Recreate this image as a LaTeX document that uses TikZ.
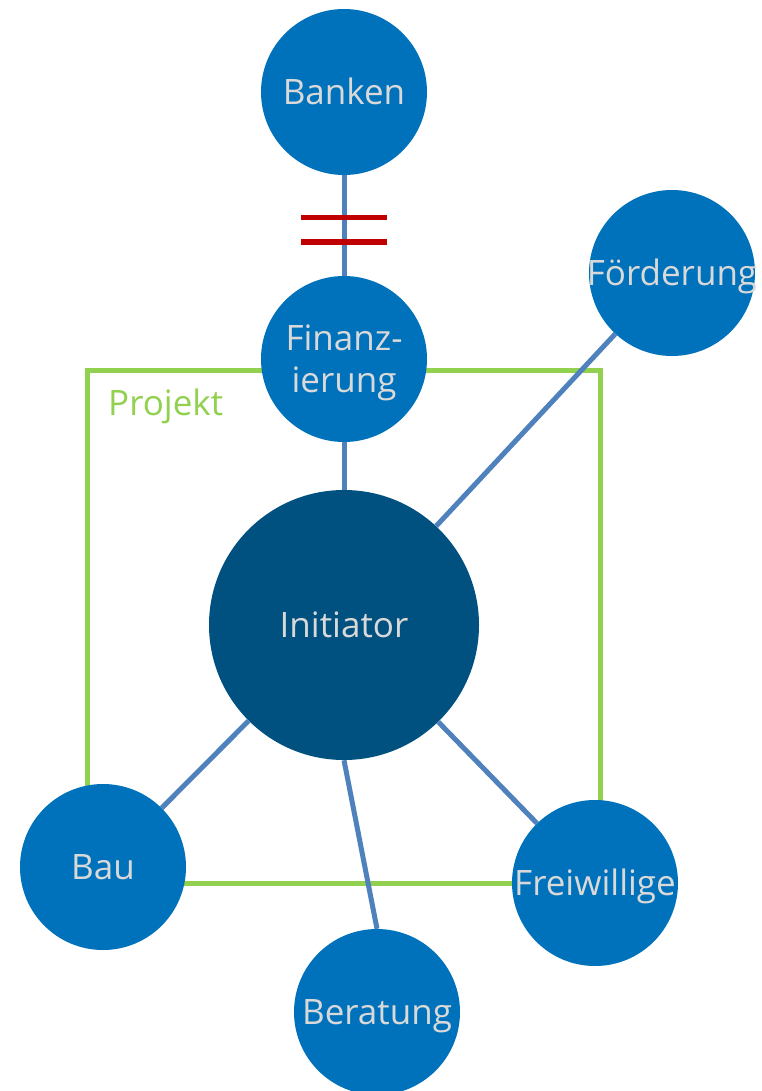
\documentclass[tikz,border=0pt]{standalone}
\usepackage{fontspec}
\setmainfont{Open Sans}
\definecolor{nodeblue}{RGB}{0,114,187}
\definecolor{darkblue}{RGB}{0,81,128}
\definecolor{linkblue}{RGB}{79,129,189}
\definecolor{projgreen}{RGB}{146,208,80}
\definecolor{cutred}{RGB}{192,0,0}
\definecolor{labelgray}{RGB}{217,217,217}
\begin{document}
\begin{tikzpicture}[x=1pt,y=-1pt,
  txt/.style={text=labelgray,font=\fontsize{35}{42}\selectfont,inner sep=0pt,text height=25pt,text depth=0pt},
  txttwo/.style={text=labelgray,font=\fontsize{35}{42}\selectfont,align=center,inner sep=0pt,yshift=-4pt},
  actor/.style={circle,fill=nodeblue,minimum size=166pt,inner sep=0pt,label={[txt]center:#1}},
  actortwo/.style={circle,fill=nodeblue,minimum size=166pt,inner sep=0pt,label={[txttwo]center:#1}},
  hub/.style={circle,fill=darkblue,minimum size=270pt,inner sep=0pt,label={[txt]center:#1}},
  link/.style={draw=linkblue,line width=5pt},
  frame/.style={draw=projgreen,line width=5pt},
  cut/.style={draw=cutred,line width=5pt}]
\useasboundingbox (0,0) rectangle (762,1091);
% project frame
\draw[frame] (87,370) rectangle (600,883);
\node[text=projgreen,font=\fontsize{35}{42}\selectfont,anchor=base west,inner sep=0pt] (proj) at (108,415) {Projekt};
% positions
\coordinate (cB) at (344,92);
\coordinate (cF) at (344,359);
\coordinate (cFo) at (672,273);
\coordinate (cI) at (344,625);
\coordinate (cBau) at (103,867);
\coordinate (cFr) at (595,883);
\coordinate (cBe) at (377,1012);
% nodes
\node[actor={Banken}] (banken) at (cB) {};
\node[actortwo={Finanz-\\ierung}] (fin) at (cF) {};
\node[actor={Förderung}] (foe) at (cFo) {};
\node[hub={Initiator}] (init) at (cI) {};
\node[actor={Bau}] (bau) at (cBau) {};
\node[actor={Freiwillige}] (frei) at (cFr) {};
\node[actor={Beratung}] (ber) at (cBe) {};
% connectors
\draw[link] (banken) -- (fin);
\draw[link] (fin) -- (init);
\draw[link] (init) -- (foe);
\draw[link] (init) -- (bau);
\draw[link] (init) -- (frei);
\draw[link] (init.south) -- (ber.north);
% cut marks
\coordinate (r1a) at (301,218);
\coordinate (r1b) at (387,218);
\coordinate (r2a) at (301,242);
\coordinate (r2b) at (387,242);
\draw[cut] (r1a) -- (r1b);
\draw[cut] (r2a) -- (r2b);
\end{tikzpicture}
\end{document}
